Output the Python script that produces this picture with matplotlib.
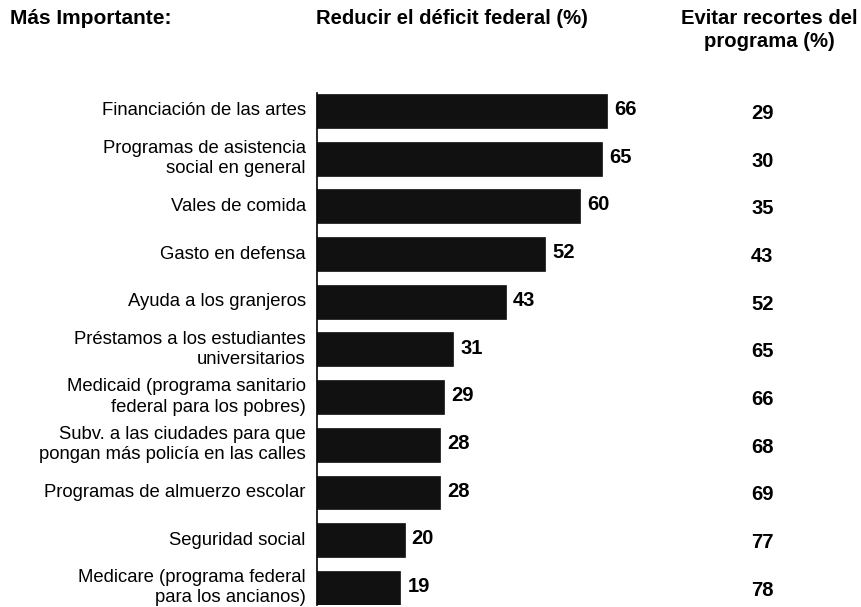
import matplotlib.pyplot as plt
import matplotlib.transforms as mtransforms

plt.rcParams['font.family'] = ['Liberation Sans', 'DejaVu Sans']

# datos
programas = ["Financiación de las artes",
             "Programas de asistencia\nsocial en general",
             "Vales de comida",
             "Gasto en defensa",
             "Ayuda a los granjeros",
             "Préstamos a los estudiantes\nuniversitarios",
             "Medicaid (programa sanitario\nfederal para los pobres)",
             "Subv. a las ciudades para que\npongan más policía en las calles",
             "Programas de almuerzo escolar",
             "Seguridad social",
             "Medicare (programa federal\npara los ancianos)"]
reducir_deficit = [66, 65, 60, 52, 43, 31, 29, 28, 28, 20, 19]
evitar_recortes = [29, 30, 35, 43, 52, 65, 66, 68, 69, 77, 78]

fig = plt.figure(figsize=(8.62, 6.07), dpi=100)
ax = fig.add_axes([0.3677, 0.0033, 0.6114, 0.8435])

pos = list(range(len(programas)))
ax.barh(pos, reducir_deficit, height=0.71, color='#111111', edgecolor='#111111', linewidth=0.5)

ax.set_xlim(0, 120)
ax.set_ylim(10.36, -0.377)

for side in ['top', 'right', 'bottom']:
    ax.spines[side].set_visible(False)
ax.spines['left'].set_linewidth(1.2)
ax.set_xticks([])
ax.set_yticks([])

trans_right = mtransforms.blended_transform_factory(ax.transAxes, ax.transData)

for i in pos:
    # etiqueta del programa
    ax.annotate(programas[i], (0, i), xytext=(-8, 0), textcoords='offset points',
                ha='right', va='center', fontsize=13.3, linespacing=1.25)
    # valor al final de la barra
    ax.annotate(str(reducir_deficit[i]), (reducir_deficit[i], i), xytext=(5, 1),
                textcoords='offset points', ha='left', va='center',
                fontsize=14.5, fontweight='bold')
    # columna derecha
    ax.text(0.845, i + 0.05, str(evitar_recortes[i]), transform=trans_right,
            ha='center', va='center', fontsize=14.5, fontweight='bold')

# encabezados
fig.text(10 / 862, 1 - 19 / 607, "Más Importante:", ha='left', va='center',
         fontsize=15, fontweight='bold')
fig.text(316 / 862, 1 - 19 / 607, "Reducir el déficit federal (%)", ha='left', va='center',
         fontsize=14.6, fontweight='bold')
fig.text(769 / 862, 1 - 30 / 607, "Evitar recortes del\nprograma (%)", ha='center', va='center',
         fontsize=14.6, fontweight='bold', linespacing=1.25)

fig.savefig('out.png', dpi=100)
